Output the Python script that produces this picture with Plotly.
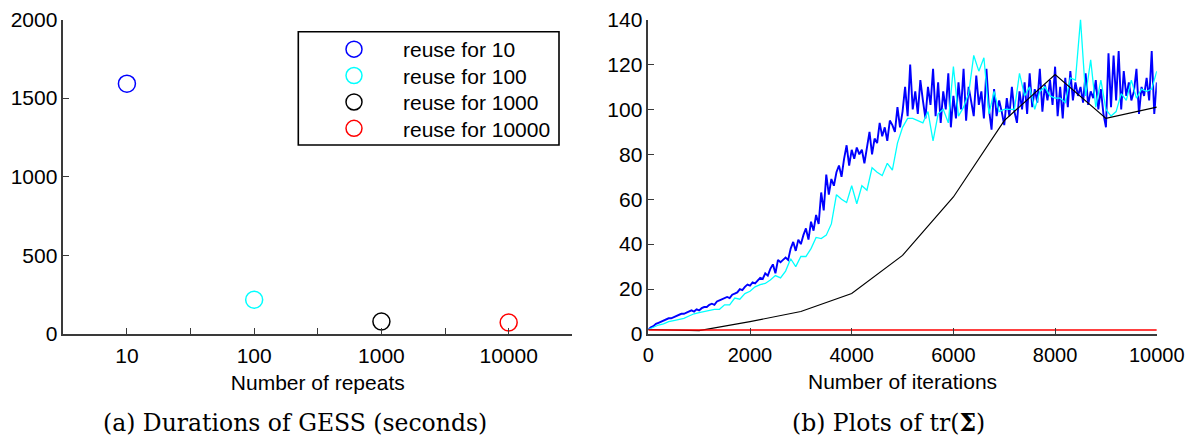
import plotly.graph_objects as go

# ---- left panel data ----
repeats = [10, 100, 1000, 10000]
durations = [1592, 218, 79, 73]
legend_names = ["reuse for 10", "reuse for 100", "reuse for 1000", "reuse for 10000"]
colors = ["#0000ff", "#00ffff", "#000000", "#ff0000"]

left_tickvals = [10**0.5, 10, 10**1.5, 100, 10**2.5, 1000, 10**3.5, 10000, 10**4.5]
left_ticktext = ["", "10", "", "100", "", "1000", "", "10000", ""]
left_yticks = [0, 500, 1000, 1500, 2000]

# ---- right panel data ----
blue_x = list(range(0, 10001, 50))
blue_y = [
    2, 3, 3.5, 4.5, 5, 5.5, 6, 6.5, 7, 7, 7.5, 8, 8.5, 9, 9, 9.5, 10, 10.5, 10, 11,
    10.5, 11.5, 12, 12, 13, 13.5, 13, 14.5, 15, 15.5, 16, 16.5, 16, 17.5, 18, 18.5, 20, 19.5, 21, 22,
    21.5, 23, 22.5, 24, 25, 24.5, 27, 26, 29, 31, 27, 33, 32, 33, 34, 33, 38, 41, 37, 42,
    40, 44, 47, 42, 50, 46, 53, 49, 63, 55, 71, 62, 69, 66, 72, 75, 70, 78, 84, 75,
    82, 78, 83, 80, 82, 76, 84, 90, 80, 87, 85, 94, 88, 92, 86, 95, 93, 90, 101, 92,
    99, 110, 97, 120, 100, 108, 98, 113, 104, 96, 110, 102, 118, 97, 112, 94, 108, 100, 116, 92,
    106, 96, 112, 100, 118, 95, 110, 103, 97, 115, 102, 108, 96, 118, 100, 91, 109, 97, 104, 99,
    93, 105, 97, 110, 99, 94, 108, 100, 112, 98, 116, 101, 109, 103, 118, 99, 111, 104, 113, 102,
    119, 97, 110, 96, 114, 101, 117, 104, 112, 106, 110, 103, 116, 102, 108, 105, 113, 100, 109, 98,
    92, 125, 101, 124, 104, 126, 100, 117, 106, 112, 104, 108, 118, 98, 110, 106, 114, 104, 126, 98,
    112,
]

cyan_x = list(range(0, 10001, 100))
cyan_y = [
    2, 3, 4, 4.5, 5.5, 6, 6.5, 7, 8, 9,
    9.5, 10, 10.5, 11, 11, 13, 13, 16, 15.5, 18,
    19, 21, 22, 22.5, 24, 26, 25, 28, 33.5, 30,
    34.5, 34.5, 38, 43, 42.5, 44, 49, 62, 60, 58.5,
    66, 58, 66, 64, 74, 72, 70.5, 76, 73, 85,
    92, 96, 96, 95, 94, 99, 86, 98, 100, 94,
    119, 97, 101, 107, 124, 117, 123, 98, 108, 99,
    100, 100, 100, 116, 106, 110, 100, 108, 110, 106,
    105, 105, 103, 114, 113, 140, 106, 122, 101, 113,
    100, 97, 99, 107, 104, 113, 105, 109, 108, 109,
    117,
]

black_x = [0, 1000, 2000, 3000, 4000, 5000, 6000, 7000, 8000, 9000, 10000]
black_y = [2, 1.5, 5.5, 10, 18, 35, 61, 95, 115.5, 96, 101]

red_x = [0, 10000]
red_y = [1.8, 1.8]

right_xticks = [0, 2000, 4000, 6000, 8000, 10000]
right_xticktext = ["0", "2000", "4000", "6000", "8000", "10000"]
right_yticks = [0, 20, 40, 60, 80, 100, 120, 140]

captions = ["(a) Durations of GESS (seconds)", "(b) Plots of tr(<b>Σ</b>)"]
xtitles = ["Number of repeats", "Number of iterations"]

# ---- page geometry (body margin removed by post_script) ----
W, H = 1186, 436


def px(X):
    return X / W


def py(Y):
    return 1 - Y / H


fig = go.Figure()

legend_keys = ["legend", "legend2", "legend3", "legend4"]
for xv, yv, nm, c, lk in zip(repeats, durations, legend_names, colors, legend_keys):
    fig.add_trace(go.Scatter(
        x=[xv], y=[yv], mode="markers", name=nm, legend=lk,
        marker=dict(symbol="circle-open", size=17, color=c, line=dict(width=1.5, color=c)),
        xaxis="x", yaxis="y", cliponaxis=False,
    ))

fig.add_trace(go.Scatter(x=blue_x, y=blue_y, mode="lines", line=dict(color="#0000ff", width=1.9),
                         showlegend=False, xaxis="x2", yaxis="y2"))
fig.add_trace(go.Scatter(x=cyan_x, y=cyan_y, mode="lines", line=dict(color="#00ffff", width=1.3),
                         showlegend=False, xaxis="x2", yaxis="y2"))
fig.add_trace(go.Scatter(x=black_x, y=black_y, mode="lines", line=dict(color="#000000", width=1.2),
                         showlegend=False, xaxis="x2", yaxis="y2"))
fig.add_trace(go.Scatter(x=red_x, y=red_y, mode="lines", line=dict(color="#ff0000", width=1.5),
                         showlegend=False, xaxis="x2", yaxis="y2"))

sans = "Liberation Sans, Arial, sans-serif"
tickfont = dict(family=sans, size=21, color="#000000")
tickfont_small = dict(family=sans, size=20, color="#000000")
axis_common = dict(showgrid=False, zeroline=False, showline=True, linecolor="#3a3a3a", linewidth=1.5,
                   ticks="inside", ticklen=6, tickcolor="#3a3a3a", tickwidth=1.2,
                   automargin=False, ticklabeloverflow="allow")

ydom = [py(334), py(19.5)]
legend_centers = [49.5, 75.9, 102.3, 128.7]
legend_layouts = {}
for lk, yc in zip(legend_keys, legend_centers):
    legend_layouts[lk] = dict(
        x=px(305), y=py(yc), xanchor="left", yanchor="middle",
        borderwidth=0, bgcolor="rgba(0,0,0,0)",
        font=dict(family=sans, size=21, color="#000000"), itemwidth=88,
    )

fig.update_layout(
    width=W, height=H,
    margin=dict(l=0, r=0, t=0, b=0),
    paper_bgcolor="white", plot_bgcolor="white",
    xaxis=dict(domain=[px(63.3), px(572.3)], type="log", range=[0.5, 4.5],
               tickmode="array", tickvals=left_tickvals, ticktext=left_ticktext,
               anchor="y", ticklabelstandoff=2, tickfont=tickfont,
               title=dict(text=xtitles[0], font=tickfont, standoff=9), **axis_common),
    yaxis=dict(domain=ydom, range=[0, 2000], tickmode="array", tickvals=left_yticks,
               anchor="x", ticklabelstandoff=0, tickfont=tickfont, **axis_common),
    xaxis2=dict(domain=[px(648.3), px(1156.8)], range=[0, 10000], tickmode="array",
                tickvals=right_xticks, ticktext=right_xticktext,
                anchor="y2", ticklabelstandoff=2, tickfont=tickfont_small,
                title=dict(text=xtitles[1], font=tickfont, standoff=10), **axis_common),
    yaxis2=dict(domain=ydom, range=[0, 140], tickmode="array", tickvals=right_yticks,
                anchor="x2", ticklabelstandoff=0, tickfont=tickfont, **axis_common),
    shapes=[dict(type="rect", xref="paper", yref="paper",
                 x0=px(298.3), x1=px(559), y0=py(145), y1=py(31.7),
                 line=dict(color="#000000", width=1.6), fillcolor="rgba(0,0,0,0)", layer="above")],
    annotations=[
        dict(text=captions[0], x=px(295), y=py(423), xref="paper", yref="paper",
             xanchor="center", yanchor="middle",
             showarrow=False, font=dict(family="DejaVu Serif, serif", size=23.5, color="#000000")),
        dict(text=captions[1], x=px(889), y=py(423), xref="paper", yref="paper",
             xanchor="center", yanchor="middle",
             showarrow=False, font=dict(family="DejaVu Serif, serif", size=23.5, color="#000000")),
    ],
    **legend_layouts,
)

fig.write_html(
    "out.html",
    config={"displayModeBar": False},
    post_script="document.body.style.margin='0px';document.documentElement.style.overflow='hidden';",
)
